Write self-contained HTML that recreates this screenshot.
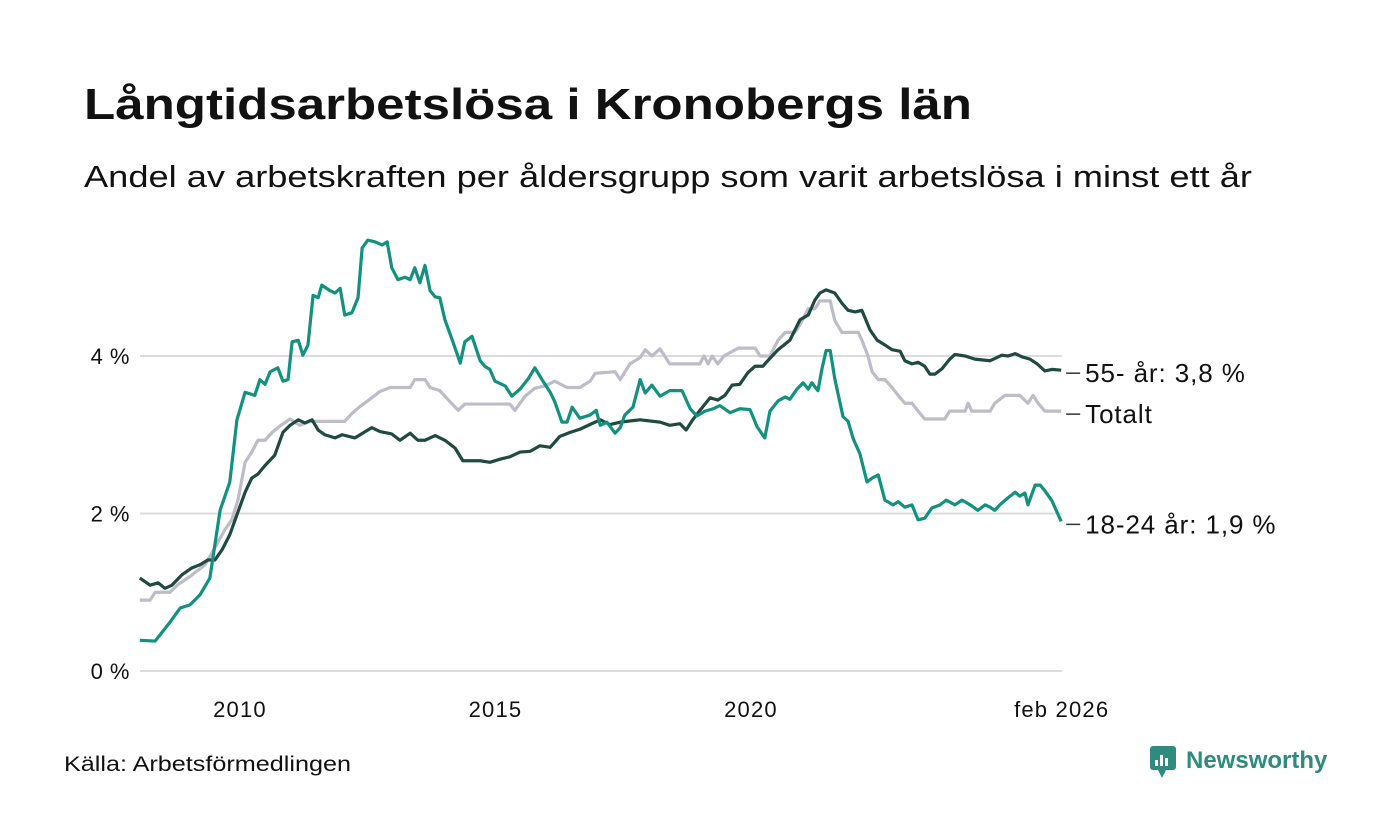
<!DOCTYPE html>
<html><head><meta charset="utf-8">
<style>
body{margin:0;background:#fff;font-family:"Liberation Sans",sans-serif;}
#wrap{position:relative;width:1400px;height:840px;overflow:hidden;}
</style></head>
<body>
<div id="wrap">
<svg id="chart" width="1400" height="840" font-family="'Liberation Sans', sans-serif">
<text x="84" y="119" font-size="44" font-weight="bold" fill="#111" textLength="888" lengthAdjust="spacingAndGlyphs">Långtidsarbetslösa i Kronobergs län</text>
<text x="84" y="187" font-size="31" fill="#111" textLength="1168" lengthAdjust="spacingAndGlyphs">Andel av arbetskraften per åldersgrupp som varit arbetslösa i minst ett år</text>
<g id="grid"></g><g id="series"></g><g id="labels"></g>
<text x="64" y="771" font-size="21" fill="#111" textLength="287" lengthAdjust="spacingAndGlyphs">Källa: Arbetsförmedlingen</text>
<g>
<rect x="1150" y="746" width="26" height="24" rx="3" fill="#2e8b7e"/>
<polygon points="1158,770 1166,770 1162,778" fill="#2e8b7e"/>
<rect x="1155" y="760" width="3" height="6" fill="#fff"/><rect x="1160" y="755" width="3" height="11" fill="#fff"/><rect x="1165" y="758" width="3" height="8" fill="#fff"/>
<text x="1186" y="768" font-size="24" font-weight="bold" fill="#2e8b7e">Newsworthy</text>
</g>
</svg>
</div>
<script>
const yTicks=[0,2,4];
const yTickLabels=["0 %","2 %","4 %"];
const xTicks=[2010,2015,2020,2026.08];
const xTickLabels=["2010","2015","2020","feb 2026"];
const youthDates=[2008.04,2008.34,2008.63,2008.83,2009.02,2009.22,2009.41,2009.61,2009.80,2009.94,2010.10,2010.29,2010.39,2010.49,2010.59,2010.74,2010.84,2010.94,2011.02,2011.14,2011.23,2011.33,2011.43,2011.53,2011.60,2011.76,2011.86,2011.96,2012.05,2012.19,2012.31,2012.39,2012.50,2012.64,2012.78,2012.88,2012.97,2013.09,2013.23,2013.33,2013.42,2013.52,2013.62,2013.72,2013.82,2013.91,2014.01,2014.15,2014.31,2014.40,2014.54,2014.70,2014.79,2014.89,2014.99,2015.19,2015.32,2015.48,2015.64,2015.77,2015.91,2016.07,2016.16,2016.30,2016.40,2016.50,2016.65,2016.85,2016.97,2017.05,2017.18,2017.34,2017.44,2017.53,2017.69,2017.83,2017.93,2018.06,2018.22,2018.41,2018.65,2018.81,2018.94,2019.10,2019.26,2019.39,2019.59,2019.78,2019.98,2020.12,2020.27,2020.37,2020.53,2020.67,2020.76,2020.90,2021.02,2021.12,2021.19,2021.31,2021.39,2021.47,2021.55,2021.64,2021.80,2021.90,2022.00,2022.13,2022.27,2022.37,2022.49,2022.62,2022.78,2022.88,2023.01,2023.15,2023.27,2023.40,2023.54,2023.70,2023.82,2023.99,2024.13,2024.29,2024.44,2024.58,2024.68,2024.77,2024.87,2025.03,2025.17,2025.26,2025.36,2025.42,2025.56,2025.66,2025.75,2025.89,2026.07];
const youthValues=[0.39,0.38,0.62,0.80,0.84,0.97,1.18,2.04,2.40,3.19,3.54,3.50,3.70,3.64,3.80,3.85,3.68,3.70,4.18,4.20,4.01,4.14,4.77,4.74,4.90,4.83,4.80,4.86,4.52,4.55,4.74,5.37,5.47,5.45,5.41,5.45,5.12,4.97,5.00,4.97,5.12,4.93,5.15,4.83,4.75,4.74,4.46,4.21,3.91,4.18,4.25,3.94,3.87,3.83,3.68,3.62,3.49,3.58,3.71,3.85,3.70,3.54,3.42,3.16,3.16,3.35,3.21,3.25,3.31,3.12,3.16,3.02,3.09,3.25,3.35,3.70,3.53,3.63,3.49,3.56,3.56,3.33,3.24,3.30,3.33,3.37,3.28,3.33,3.32,3.10,2.96,3.30,3.43,3.48,3.45,3.58,3.66,3.58,3.66,3.56,3.84,4.07,4.07,3.71,3.23,3.17,2.95,2.76,2.40,2.45,2.49,2.17,2.11,2.15,2.08,2.11,1.92,1.94,2.07,2.11,2.17,2.11,2.17,2.11,2.04,2.11,2.08,2.04,2.11,2.20,2.27,2.22,2.26,2.11,2.36,2.36,2.29,2.16,1.90];
const oldDates=[2008.04,2008.24,2008.40,2008.53,2008.67,2008.86,2009.06,2009.22,2009.37,2009.51,2009.65,2009.80,2009.96,2010.10,2010.23,2010.35,2010.49,2010.68,2010.84,2010.98,2011.14,2011.27,2011.41,2011.53,2011.66,2011.86,2012.00,2012.25,2012.45,2012.58,2012.74,2012.97,2013.13,2013.33,2013.48,2013.62,2013.82,2014.01,2014.21,2014.36,2014.70,2014.89,2015.09,2015.28,2015.48,2015.68,2015.87,2016.07,2016.26,2016.46,2016.65,2016.85,2017.05,2017.24,2017.44,2017.83,2018.22,2018.41,2018.61,2018.73,2018.86,2019.00,2019.20,2019.35,2019.49,2019.63,2019.78,2019.94,2020.08,2020.23,2020.37,2020.53,2020.76,2020.96,2021.12,2021.25,2021.35,2021.47,2021.64,2021.78,2021.90,2022.04,2022.17,2022.33,2022.47,2022.62,2022.76,2022.92,2023.01,2023.15,2023.27,2023.40,2023.50,2023.60,2023.74,2023.89,2023.99,2024.19,2024.38,2024.68,2024.91,2025.03,2025.17,2025.30,2025.46,2025.60,2025.75,2025.89,2026.07];
const oldValues=[1.18,1.09,1.12,1.05,1.09,1.22,1.31,1.35,1.41,1.41,1.54,1.73,2.02,2.27,2.45,2.50,2.61,2.74,3.03,3.12,3.19,3.15,3.19,3.06,3.00,2.96,3.00,2.96,3.04,3.09,3.04,3.01,2.93,3.02,2.93,2.93,2.99,2.93,2.83,2.67,2.67,2.65,2.69,2.72,2.78,2.79,2.86,2.84,2.98,3.03,3.07,3.13,3.19,3.13,3.16,3.19,3.16,3.12,3.14,3.06,3.19,3.31,3.47,3.44,3.50,3.63,3.64,3.79,3.87,3.87,3.97,4.08,4.20,4.46,4.52,4.71,4.80,4.84,4.80,4.67,4.58,4.56,4.58,4.33,4.20,4.14,4.08,4.06,3.94,3.90,3.92,3.87,3.77,3.77,3.84,3.96,4.02,4.00,3.96,3.94,4.01,4.00,4.03,3.99,3.96,3.90,3.81,3.83,3.82];
const totalDates=[2008.04,2008.24,2008.34,2008.63,2008.79,2009.02,2009.32,2009.51,2009.71,2009.84,2009.96,2010.10,2010.23,2010.35,2010.49,2010.63,2010.78,2010.98,2011.17,2011.37,2012.05,2012.19,2012.35,2012.54,2012.74,2012.94,2013.33,2013.42,2013.62,2013.72,2013.91,2014.11,2014.27,2014.40,2014.60,2015.28,2015.38,2015.58,2015.77,2015.97,2016.16,2016.40,2016.65,2016.85,2016.95,2017.34,2017.44,2017.63,2017.83,2017.93,2018.06,2018.22,2018.41,2019.00,2019.08,2019.16,2019.24,2019.35,2019.47,2019.75,2020.08,2020.18,2020.37,2020.53,2020.67,2020.86,2020.96,2021.12,2021.25,2021.35,2021.55,2021.64,2021.78,2022.10,2022.17,2022.29,2022.37,2022.49,2022.62,2022.76,2022.88,2023.01,2023.15,2023.27,2023.40,2023.79,2023.89,2024.19,2024.25,2024.32,2024.68,2024.77,2024.97,2025.26,2025.42,2025.52,2025.62,2025.75,2026.07];
const totalValues=[0.9,0.9,1.0,1.0,1.1,1.2,1.35,1.57,1.8,1.92,2.17,2.65,2.78,2.93,2.93,3.03,3.11,3.2,3.12,3.17,3.17,3.27,3.36,3.45,3.55,3.6,3.6,3.7,3.7,3.6,3.56,3.42,3.31,3.39,3.39,3.39,3.31,3.49,3.59,3.62,3.68,3.6,3.6,3.68,3.78,3.8,3.7,3.9,3.98,4.08,4.0,4.09,3.9,3.9,4.0,3.9,4.0,3.9,4.0,4.1,4.1,4.0,4.0,4.2,4.3,4.3,4.4,4.6,4.6,4.7,4.7,4.45,4.3,4.3,4.2,4.0,3.8,3.7,3.7,3.6,3.5,3.4,3.4,3.3,3.2,3.2,3.3,3.3,3.4,3.3,3.3,3.4,3.5,3.5,3.4,3.5,3.4,3.3,3.3];
const endLabels=["55- år: 3,8 %","Totalt","18-24 år: 1,9 %"];

const NS="http://www.w3.org/2000/svg";
const X=t=>240+(t-2010)*51.1;
const Y=v=>671-v*78.75;
function mk(tag,attrs,parent){const e=document.createElementNS(NS,tag);for(const k in attrs)e.setAttribute(k,attrs[k]);parent.appendChild(e);return e;}
const grid=document.getElementById('grid'),ser=document.getElementById('series'),lab=document.getElementById('labels');
yTicks.forEach((v,i)=>{
  const l=mk('line',{x1:140,x2:1062,y1:Y(v),y2:Y(v),stroke:'#dcdbe0','stroke-width':2},grid);
  
  
  const t=mk('text',{x:130,y:Y(v)+8,'text-anchor':'end','font-size':22,'letter-spacing':0.5,fill:'#111'},grid);
  t.textContent=yTickLabels[i];
  
  
});
xTicks.forEach((v,i)=>{
  const t=mk('text',{x:X(v),y:717,'text-anchor':'middle','font-size':22,'letter-spacing':1.2,fill:'#111'},grid);
  t.textContent=xTickLabels[i];
  
  
});
function line(d,v,color,name){
  const p=mk('polyline',{points:d.map((t,i)=>X(t)+','+Y(v[i])).join(' '),fill:'none',stroke:color,'stroke-width':3.2,'stroke-linejoin':'round'},ser);
  
  
}
line(totalDates,totalValues,'#bdbcc8','line-totalt');
line(oldDates,oldValues,'#1f4a40','line-55-ar');
line(youthDates,youthValues,'#12917f','line-18-24-ar');
const ends=[[oldValues[oldValues.length-1],oldDates[oldDates.length-1]],[totalValues[totalValues.length-1],totalDates[totalDates.length-1]],[youthValues[youthValues.length-1],youthDates[youthDates.length-1]]];
ends.forEach((e,i)=>{
  const y=Y(e[0]),x=X(e[1]);
  const l=mk('line',{x1:x+5,x2:x+19,y1:y+3,y2:y+3,stroke:'#333','stroke-width':1.5},lab);
  
  
  const t=mk('text',{x:x+24,y:y+12,'font-size':26,'letter-spacing':0.9,fill:'#111'},lab);
  t.textContent=endLabels[i];
  
  
});
</script>
</body></html>
